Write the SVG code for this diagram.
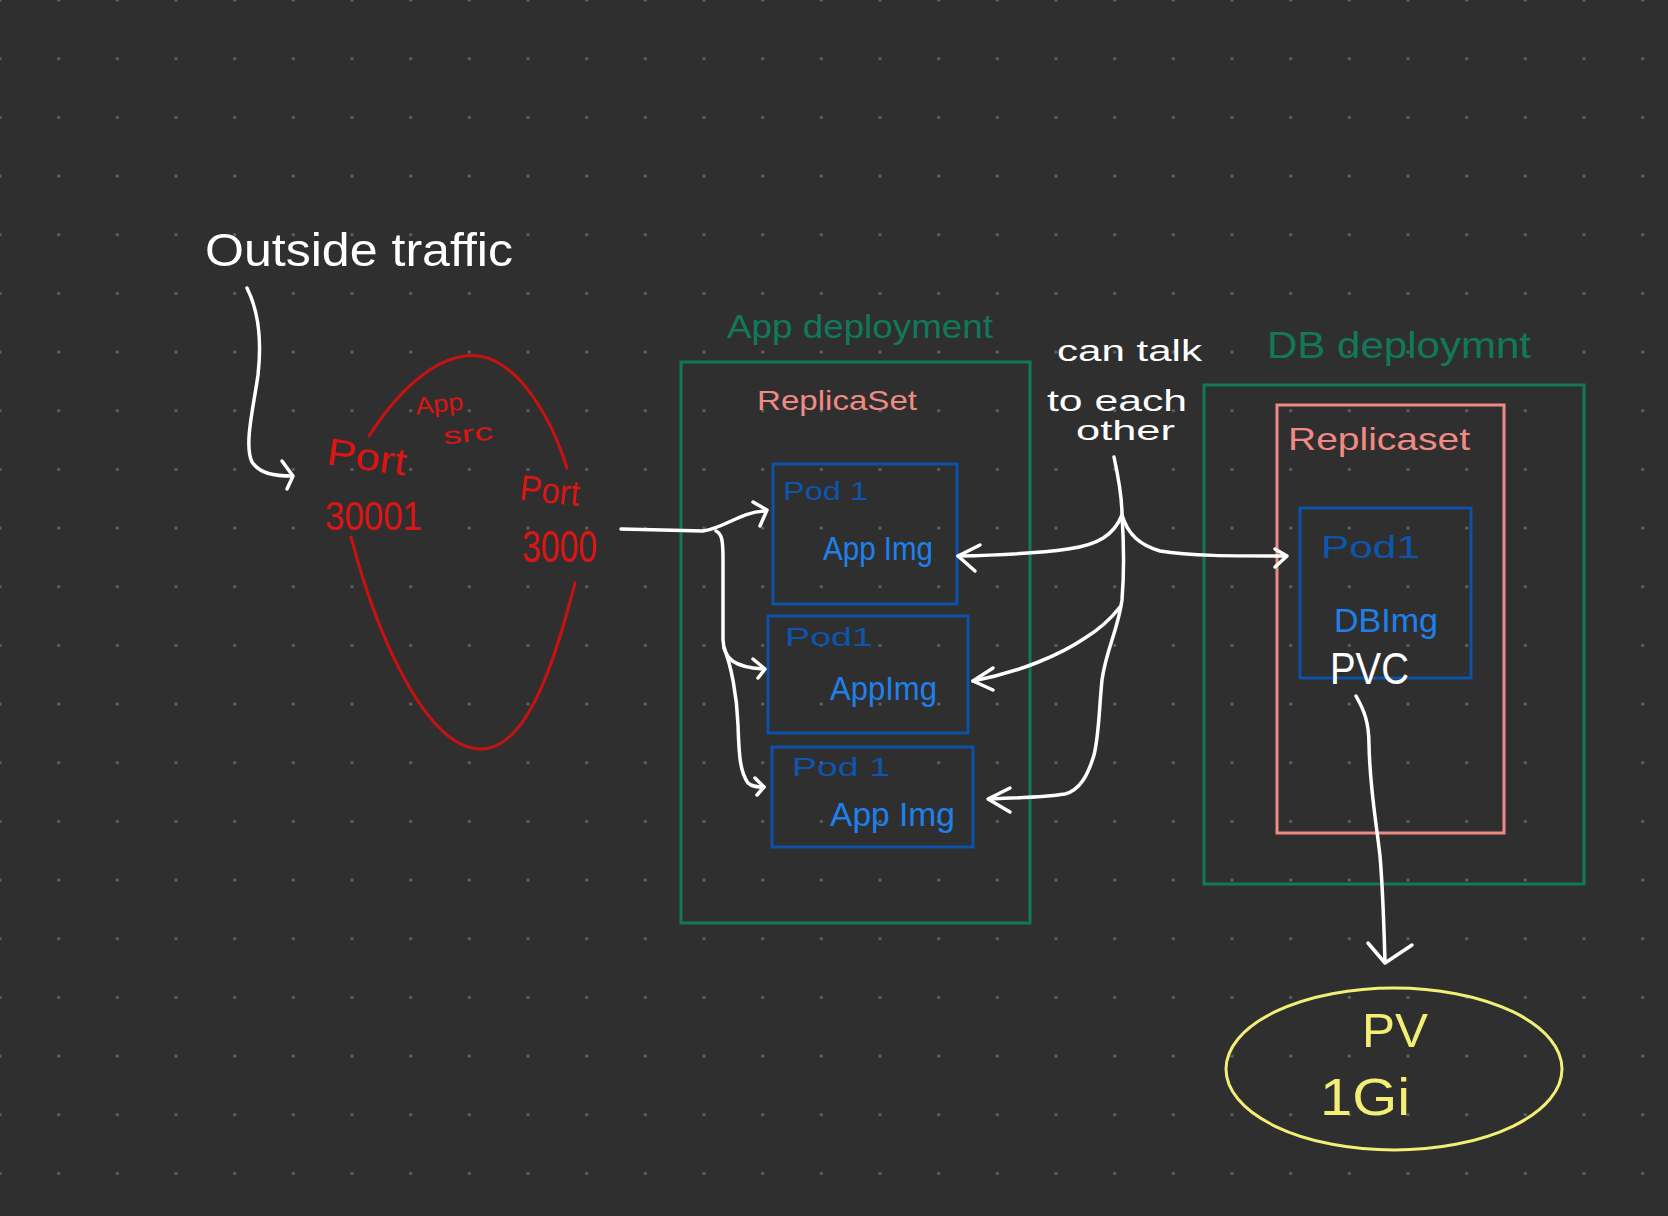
<svg xmlns="http://www.w3.org/2000/svg" width="1668" height="1216" viewBox="0 0 1668 1216">
<defs>
<pattern id="dots" patternUnits="userSpaceOnUse" x="-29.333" y="-29.333" width="58.667" height="58.667">
<circle cx="29.333" cy="29.333" r="1.6" fill="#666666"/>
</pattern>
<style>
text{font-family:"Liberation Sans","DejaVu Sans",sans-serif;}
.w{fill:#ffffff}
.red{fill:#dd1414}
.grn{fill:#11795a}
.sal{fill:#f08a84}
.dblue{fill:#0d55ad}
.blue{fill:#1f80ec}
.yel{fill:#f3ee74}
.box-g{fill:none;stroke:#11795a;stroke-width:3}
.box-s{fill:none;stroke:#f08a84;stroke-width:3}
.box-b{fill:none;stroke:#0b52a8;stroke-width:3}
.con{fill:none;stroke:#ffffff;stroke-width:3.5;stroke-linecap:round;stroke-linejoin:round}
.arc{fill:none;stroke:#c81212;stroke-width:3;stroke-linecap:round}
</style>
</defs>
<rect width="1668" height="1216" fill="#2f2f2f"/>
<rect width="1668" height="1216" fill="url(#dots)"/>

<g id="outside-traffic">
<text class="w" x="205" y="266" font-size="46" textLength="308" lengthAdjust="spacingAndGlyphs">Outside traffic</text>
</g>

<g id="app-service">
<path class="arc" d="M369,436 C405,380 445,352 479,356 C520,362 552,420 567,468"/>
<path class="arc" d="M351,537 C378,640 428,750 482,749 C532,748 560,640 575,583"/>
<text class="red" x="415" y="412" font-size="24" textLength="48" lengthAdjust="spacingAndGlyphs" transform="rotate(-6 439 402)">App</text>
<text class="red" x="443" y="442" font-size="24" textLength="50" lengthAdjust="spacingAndGlyphs" transform="rotate(-6 468 434)">src</text>
<text class="red" x="327" y="470" font-size="38" textLength="80" lengthAdjust="spacingAndGlyphs" transform="rotate(8 367 456)">Port</text>
<text class="red" x="325" y="530" font-size="40" textLength="97" lengthAdjust="spacingAndGlyphs">30001</text>
<text class="red" x="520" y="503" font-size="36" textLength="60" lengthAdjust="spacingAndGlyphs" transform="rotate(6 550 490)">Port</text>
<text class="red" x="522" y="562" font-size="44" textLength="75" lengthAdjust="spacingAndGlyphs">3000</text>
</g>

<g id="app-deployment">
<rect class="box-g" x="681" y="362" width="349" height="561"/>
<text class="grn" x="727" y="338" font-size="34" textLength="266" lengthAdjust="spacingAndGlyphs">App deployment</text>
<text class="sal" x="757" y="410" font-size="28" textLength="160" lengthAdjust="spacingAndGlyphs">ReplicaSet</text>
</g>

<g id="app-pod-1">
<rect class="box-b" x="773" y="464" width="184" height="140"/>
<text class="dblue" x="783" y="500" font-size="26" textLength="85" lengthAdjust="spacingAndGlyphs">Pod 1</text>
<text class="blue" x="823" y="560" font-size="34" textLength="110" lengthAdjust="spacingAndGlyphs">App Img</text>
</g>

<g id="app-pod-2">
<rect class="box-b" x="768" y="616" width="200" height="117"/>
<text class="dblue" x="785" y="646" font-size="26" textLength="88" lengthAdjust="spacingAndGlyphs">Pod1</text>
<text class="blue" x="830" y="700" font-size="34" textLength="107" lengthAdjust="spacingAndGlyphs">AppImg</text>
</g>

<g id="app-pod-3">
<rect class="box-b" x="772" y="747" width="201" height="100"/>
<text class="dblue" x="792" y="776" font-size="26" textLength="98" lengthAdjust="spacingAndGlyphs">Pod 1</text>
<text class="blue" x="830" y="826" font-size="34" textLength="125" lengthAdjust="spacingAndGlyphs">App Img</text>
</g>

<g id="talk-note">
<text class="w" x="1057" y="361" font-size="30" textLength="145" lengthAdjust="spacingAndGlyphs">can talk</text>
<text class="w" x="1047" y="411" font-size="30" textLength="140" lengthAdjust="spacingAndGlyphs">to each</text>
<text class="w" x="1076" y="440" font-size="28" textLength="99" lengthAdjust="spacingAndGlyphs">other</text>
</g>

<g id="db-deployment">
<rect class="box-g" x="1204" y="385" width="380" height="499"/>
<text class="grn" x="1267" y="358" font-size="36" textLength="264" lengthAdjust="spacingAndGlyphs">DB deploymnt</text>
</g>

<g id="db-replicaset">
<rect class="box-s" x="1277" y="405" width="227" height="428"/>
<text class="sal" x="1288" y="450" font-size="32" textLength="182" lengthAdjust="spacingAndGlyphs">Replicaset</text>
</g>

<g id="db-pod">
<rect class="box-b" x="1300" y="508" width="171" height="170"/>
<text class="dblue" x="1321" y="558" font-size="32" textLength="99" lengthAdjust="spacingAndGlyphs">Pod1</text>
<text class="blue" x="1334" y="632" font-size="34" textLength="104" lengthAdjust="spacingAndGlyphs">DBImg</text>
</g>

<g id="pvc">
<text class="w" x="1330" y="684" font-size="44" textLength="79" lengthAdjust="spacingAndGlyphs">PVC</text>
</g>

<g id="pv">
<ellipse cx="1394" cy="1069" rx="168" ry="81" fill="none" stroke="#f3ee74" stroke-width="3"/>
<text class="yel" x="1362" y="1047" font-size="48" textLength="66" lengthAdjust="spacingAndGlyphs">PV</text>
<text class="yel" x="1320" y="1115" font-size="52" textLength="90" lengthAdjust="spacingAndGlyphs">1Gi</text>
</g>

<g id="connectors">
<!-- outside traffic to Port 30001 -->
<path class="con" d="M247,288 C258,310 262,340 258,375 C253,410 244,445 252,462 C260,474 275,476 292,476"/>
<path class="con" d="M282,461 L293,476 L287,489"/>
<!-- Port 3000 to app pods -->
<path class="con" d="M621,529 L703,531 C725,528 740,512 765,511"/>
<path class="con" d="M753,502 L767,510 L760,526"/>
<path class="con" d="M716,531 C722,534 723,540 723,560 L723,640 C724,660 735,667 763,669"/>
<path class="con" d="M753,659 L765,669 L758,678"/>
<path class="con" d="M724,648 C731,665 737,695 738,725 C739,755 740,772 748,783 C752,787 758,787 764,787"/>
<path class="con" d="M755,778 L764,787 L757,795"/>
<!-- can talk to each other -->
<path class="con" d="M1114,457 C1119,480 1122,500 1122,515 C1124,545 1124,575 1122,600 C1118,630 1106,650 1102,680 C1099,710 1099,735 1094,755 C1088,775 1080,790 1065,794 C1045,797 1020,798 990,799"/>
<path class="con" d="M1010,788 L988,799 L1010,812"/>
<path class="con" d="M1122,515 C1114,535 1098,545 1068,549 C1040,553 1000,555 958,556"/>
<path class="con" d="M980,545 L958,556 L975,571"/>
<path class="con" d="M1120,607 C1110,620 1098,630 1085,638 C1060,655 1020,672 973,681"/>
<path class="con" d="M993,668 L973,681 L993,690"/>
<path class="con" d="M1122,515 C1128,535 1140,545 1160,551 C1190,556 1230,556 1286,556"/>
<path class="con" d="M1275,549 L1287,556 L1275,567"/>
<!-- PVC to PV -->
<path class="con" d="M1356,696 C1364,710 1369,722 1369,745 C1370,790 1376,820 1380,856 C1383,890 1384,930 1385,962"/>
<path class="con" d="M1368,943 L1385,963 L1412,945"/>
</g>
</svg>
